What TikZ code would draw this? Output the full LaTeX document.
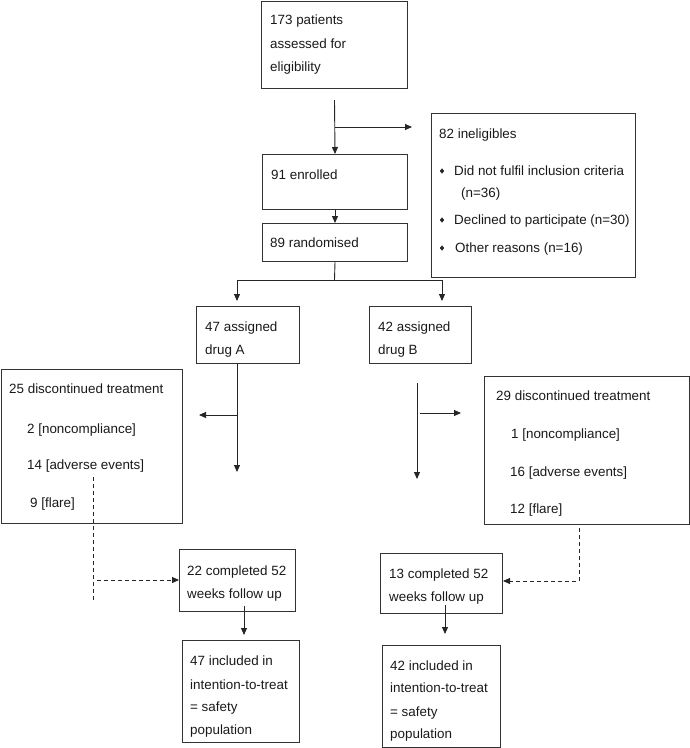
\documentclass[tikz,border=0pt]{standalone}
\usepackage{fontspec}
\setmainfont{Liberation Sans}
\usetikzlibrary{arrows.meta,shapes.geometric}
\begin{document}
\begin{tikzpicture}[x=1pt,y=-1pt,
  box/.style={draw=black!80,line width=1pt,anchor=north west,inner sep=0pt,rectangle},
  txt/.style={anchor=base west,inner sep=0pt,font=\fontsize{13.4}{16}\selectfont,text=black!90},
  ln/.style={draw=black!85,line width=0.9pt},
  arr/.style={ln,-{Triangle[length=7pt,width=6pt]}},
  darr/.style={ln,dashed,dash pattern=on 4pt off 3pt,-{Triangle[length=7pt,width=6pt]}},
  bul/.style={diamond,fill=black!85,inner sep=0pt,minimum width=4.5pt,minimum height=5.5pt}]
\useasboundingbox (0,0) rectangle (690,748);
% boxes
\node[box,minimum width=146pt,minimum height=87pt] (b1) at (261,1) {};
\node[box,minimum width=204pt,minimum height=164pt] (inel) at (431,113) {};
\node[box,minimum width=145pt,minimum height=55pt] (enr) at (262,154) {};
\node[box,minimum width=145pt,minimum height=38pt] (rand) at (262,223) {};
\node[box,minimum width=103pt,minimum height=57pt] (A) at (196,306) {};
\node[box,minimum width=102pt,minimum height=57pt] (B) at (369,306) {};
\node[box,minimum width=181pt,minimum height=154pt] (discA) at (1,369) {};
\node[box,minimum width=205pt,minimum height=148pt] (discB) at (484,376) {};
\node[box,minimum width=116pt,minimum height=62pt] (compA) at (179,549) {};
\node[box,minimum width=122pt,minimum height=60pt] (compB) at (380,553) {};
\node[box,minimum width=117pt,minimum height=102pt] (itA) at (182,640) {};
\node[box,minimum width=118pt,minimum height=102pt] (itB) at (382,645) {};
% texts
\node[txt] (t1a) at (270,24) {173 patients};
\node[txt] (t1b) at (270,48) {assessed for};
\node[txt] (t1c) at (270,71) {eligibility};
\node[txt] (ti0) at (439,138) {82 ineligibles};
\node[bul] (bu1) at (442,171) {};
\node[bul] (bu2) at (442,220) {};
\node[bul] (bu3) at (442,248) {};
\node[txt] (ti1) at (454,175) {Did not fulfil inclusion criteria};
\node[txt] (ti1b) at (461,197) {(n=36)};
\node[txt] (ti2) at (454,224) {Declined to participate (n=30)};
\node[txt] (ti3) at (455,252) {Other reasons (n=16)};
\node[txt] (te) at (271,179) {91 enrolled};
\node[txt] (tr) at (270,247) {89 randomised};
\node[txt] (tA1) at (205,331) {47 assigned};
\node[txt] (tA2) at (205,354) {drug A};
\node[txt] (tB1) at (378,331) {42 assigned};
\node[txt] (tB2) at (378,354) {drug B};
\node[txt] (dA0) at (9,393) {25 discontinued treatment};
\node[txt] (dA1) at (27,433) {2 [noncompliance]};
\node[txt] (dA2) at (27,469) {14 [adverse events]};
\node[txt] (dA3) at (30,507) {9 [flare]};
\node[txt] (dB0) at (496,400) {29 discontinued treatment};
\node[txt] (dB1) at (511,438) {1 [noncompliance]};
\node[txt] (dB2) at (510,476) {16 [adverse events]};
\node[txt] (dB3) at (510,513) {12 [flare]};
\node[txt] (cA1) at (187,575) {22 completed 52};
\node[txt] (cA2) at (187,598) {weeks follow up};
\node[txt] (cB1) at (389,578) {13 completed 52};
\node[txt] (cB2) at (389,601) {weeks follow up};
\node[txt] (iA1) at (190,665) {47 included in};
\node[txt] (iA2) at (190,689) {intention-to-treat};
\node[txt] (iA3) at (190,711) {= safety};
\node[txt] (iA4) at (190,734) {population};
\node[txt] (iB1) at (390,670) {42 included in};
\node[txt] (iB2) at (390,692) {intention-to-treat};
\node[txt] (iB3) at (390,716) {= safety};
\node[txt] (iB4) at (390,738) {population};
% connector points
\coordinate (c1) at (334.5,100);
\coordinate (c2) at (334.5,127);
\coordinate (c3) at (412,127);
\coordinate (sp) at (334.5,280);
\coordinate (spL) at (237,280);
\coordinate (spR) at (442,280);
\coordinate (aL) at (237,301);
\coordinate (aR) at (442,301);
\coordinate (a1) at (237,363);
\coordinate (a2) at (237,472);
\coordinate (a3) at (237,415);
\coordinate (a4) at (199,415);
\coordinate (bb1) at (417,383);
\coordinate (bb2) at (417,479);
\coordinate (bb3) at (420,413);
\coordinate (bb4) at (461,413);
\coordinate (dl1) at (93,477);
\coordinate (dl2) at (93,600);
\coordinate (dl3) at (97,580);
\coordinate (dr1) at (579,528);
\coordinate (dr2) at (579,581);
\coordinate (ca1) at (244,606);
\coordinate (ca2) at (244,635);
\coordinate (cb1) at (445,605);
\coordinate (cb2) at (445,634);
% connectors
\draw[arr] (c1) -- (enr.north);
\draw[arr] (c2) -- (c3);
\draw[arr] (enr.south) -- (rand.north);
\draw[ln] (rand.south) -- (sp);
\draw[ln,{Triangle[length=7pt,width=6pt]}-{Triangle[length=7pt,width=6pt]}] (aL) -- (spL) -- (spR) -- (aR);
\draw[arr] (a1) -- (a2);
\draw[arr] (a3) -- (a4);
\draw[arr] (bb1) -- (bb2);
\draw[arr] (bb3) -- (bb4);
\draw[ln,dashed,dash pattern=on 4pt off 3pt] (dl1) -- (dl2);
\draw[darr] (dl3) -- (compA.west |- dl3);
\draw[darr] (dr1) -- (dr2) -- (compB.east |- dr2);
\draw[arr] (ca1) -- (ca2);
\draw[arr] (cb1) -- (cb2);
\end{tikzpicture}
\end{document}
